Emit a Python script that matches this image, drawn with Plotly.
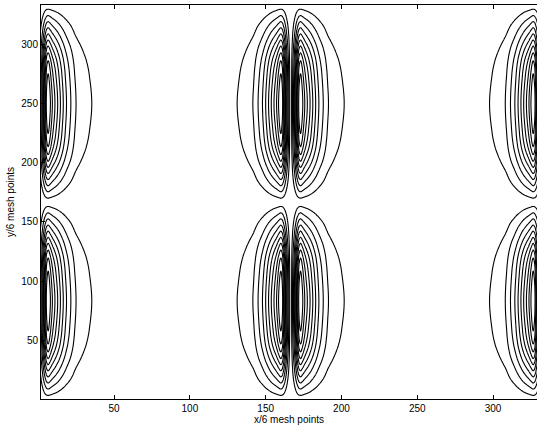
import numpy as np
import plotly.graph_objects as go

# ---- values ----
NODE_X = [0.0, 166.5, 333.0]          # x positions where the field vanishes (lobe pairs sit beside them)
Y_LENGTH = 333.0                       # full y extent of the domain
Y_HALF = 166.5                         # distance between y nodes
LEVELS = [0.0909, 0.1818, 0.2727, 0.3636, 0.4545, 0.5455, 0.6364, 0.7273, 0.8182, 0.9091]  # relative levels
# x-profile: distance from nearest x-node -> relative amplitude (contour crossings on the lobe centre row)
PROFILE_D = [0.0, 1.2, 2.4, 3.4, 4.3, 5.0, 5.6, 6.5, 8.0, 9.3, 11.0, 12.8, 14.6, 16.5, 18.6, 21.5, 24.9, 35.3,
             60.0, 83.25]
PROFILE_H = [0.0, 0.18, 0.36, 0.55, 0.73, 0.86, 0.95, 1.0, 0.9091, 0.8182, 0.7273, 0.6364, 0.5455, 0.4545,
             0.3636, 0.2727, 0.1818, 0.0909, 0.02, 0.0]
# y-profile: distance from nearest y-node -> relative amplitude (contour tops on the lobe peak column)
PROFILE_DY = [0.0, 3.5, 8.9, 14.0, 19.2, 24.3, 29.5, 34.6, 40.3, 47.0, 58.0, 83.25]
PROFILE_S = [0.0, 0.0909, 0.1818, 0.2727, 0.3636, 0.4545, 0.5455, 0.6364, 0.7273, 0.8182, 0.9091, 1.0]
X_TICKS = [50, 100, 150, 200, 250, 300]
Y_TICKS = [50, 100, 150, 200, 250, 300]
X_RANGE = [1.8, 329.0]
Y_RANGE = [0.5, 333.0]


def pchip(xk, yk, x, end_slope=0.0):
    """Monotone cubic (Fritsch-Carlson) through the read-off profile points."""
    xk = np.asarray(xk, float)
    yk = np.asarray(yk, float)
    hk = np.diff(xk)
    dk = np.diff(yk) / hk
    m = np.zeros_like(yk)
    for k in range(1, len(xk) - 1):
        if dk[k - 1] * dk[k] > 0:
            w1 = 2 * hk[k] + hk[k - 1]
            w2 = hk[k] + 2 * hk[k - 1]
            m[k] = (w1 + w2) / (w1 / dk[k - 1] + w2 / dk[k])
    m[0] = dk[0]
    m[-1] = end_slope
    i = np.clip(np.searchsorted(xk, x) - 1, 0, len(xk) - 2)
    t = (x - xk[i]) / hk[i]
    t2, t3 = t * t, t * t * t
    return ((2 * t3 - 3 * t2 + 1) * yk[i] + (t3 - 2 * t2 + t) * hk[i] * m[i]
            + (-2 * t3 + 3 * t2) * yk[i + 1] + (t3 - t2) * hk[i] * m[i + 1])


# ---- grid (fine near the x nodes) ----
parts = [np.arange(0.0, 333.0 + 1e-9, 1.0)]
for n in NODE_X:
    parts.append(np.arange(n - 12.0, n + 12.0 + 1e-9, 0.15))
xs = np.unique(np.round(np.concatenate(parts), 3))
xs = xs[(xs >= 0.0) & (xs <= 333.0)]
ys = np.arange(0.0, Y_LENGTH + 1e-9, 1.0)

d = np.min(np.abs(xs[None, :] - np.array(NODE_X)[:, None]), axis=0)
h = pchip(PROFILE_D, PROFILE_H, d)
dy = np.minimum(np.mod(ys, Y_HALF), Y_HALF - np.mod(ys, Y_HALF))
s = pchip(PROFILE_DY, PROFILE_S, dy)
u = s[:, None] * h[None, :]
# map the field onto level indices so that contour k sits exactly on LEVELS[k-1]
Z = np.round(np.interp(u, [0.0] + LEVELS + [1.0], np.arange(len(LEVELS) + 2)), 4)

fig = go.Figure(go.Contour(
    x=xs, y=ys, z=Z,
    contours=dict(start=1, end=len(LEVELS), size=1, coloring="lines", showlabels=False),
    colorscale=[[0, "black"], [1, "black"]],
    line=dict(width=1.1, smoothing=1.0),
    showscale=False, hoverinfo="skip",
))

font = dict(family="Liberation Sans, Arial, sans-serif", size=10, color="black")
fig.update_layout(
    width=537, height=429,
    margin=dict(l=41, r=0, t=5, b=30),
    paper_bgcolor="white", plot_bgcolor="white",
    font=font, showlegend=False,
    xaxis=dict(range=X_RANGE, tickvals=X_TICKS, ticks="inside", ticklen=4, tickcolor="black",
               showline=True, linecolor="black", linewidth=1, mirror="ticks",
               showgrid=False, zeroline=False, tickfont=font,
               title=dict(text="x/6 mesh points", font=font, standoff=2)),
    yaxis=dict(range=Y_RANGE, tickvals=Y_TICKS, ticks="inside", ticklen=4, tickcolor="black",
               showline=True, linecolor="black", linewidth=1, mirror=False,
               showgrid=False, zeroline=False, tickfont=font,
               title=dict(text="y/6 mesh points", font=font, standoff=4)),
)
fig.write_html("out.html")
